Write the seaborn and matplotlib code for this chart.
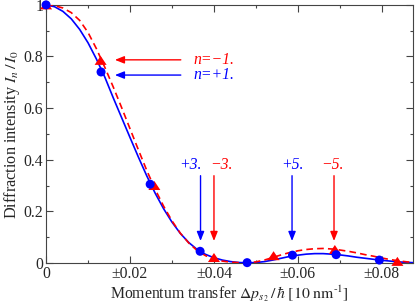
import numpy as np
import pandas as pd
import matplotlib
matplotlib.use("Agg")
import matplotlib.pyplot as plt
from matplotlib.ticker import MultipleLocator, FixedLocator, FixedFormatter
import seaborn as sns

# ---- data ----
blue_curve_x = [0.000, 0.002, 0.004, 0.006, 0.008, 0.010, 0.012, 0.014, 0.016, 0.018,
                0.020, 0.022, 0.024, 0.026, 0.028, 0.030, 0.032, 0.034, 0.036, 0.038,
                0.040, 0.042, 0.044, 0.046, 0.048, 0.050, 0.052, 0.054, 0.056, 0.058,
                0.060, 0.062, 0.064, 0.066, 0.068, 0.070, 0.072, 0.074, 0.076, 0.078,
                0.080, 0.082, 0.084, 0.086, 0.0874]
blue_curve_y = [1.000, 0.993, 0.975, 0.946, 0.905, 0.853, 0.790, 0.720, 0.640, 0.563,
                0.486, 0.410, 0.337, 0.270, 0.210, 0.158, 0.114, 0.079, 0.052, 0.033,
                0.020, 0.011, 0.005, 0.0015, 0.000, 0.0015, 0.005, 0.011, 0.018, 0.025,
                0.030, 0.034, 0.036, 0.036, 0.034, 0.031, 0.027, 0.022, 0.018, 0.014,
                0.010, 0.007, 0.004, 0.002, 0.001]
red_curve_x = [0.000, 0.002, 0.004, 0.006, 0.008, 0.010, 0.012, 0.014, 0.016, 0.018,
               0.020, 0.022, 0.024, 0.026, 0.028, 0.030, 0.032, 0.034, 0.036, 0.038,
               0.040, 0.042, 0.044, 0.046, 0.047, 0.048, 0.050, 0.052, 0.054, 0.056,
               0.058, 0.060, 0.062, 0.064, 0.066, 0.068, 0.070, 0.072, 0.074, 0.076,
               0.078, 0.080, 0.082, 0.084, 0.086, 0.0874]
red_curve_y = [1.000, 0.997, 0.988, 0.970, 0.940, 0.893, 0.830, 0.758, 0.682, 0.602,
               0.520, 0.438, 0.358, 0.285, 0.220, 0.163, 0.115, 0.077, 0.048, 0.028,
               0.015, 0.007, 0.003, 0.001, 0.000, 0.0005, 0.004, 0.011, 0.021, 0.031,
               0.040, 0.047, 0.052, 0.055, 0.056, 0.054, 0.050, 0.045, 0.039, 0.032,
               0.026, 0.019, 0.013, 0.008, 0.004, 0.002]
blue_pts_x = [0.0, 0.0131, 0.0248, 0.0367, 0.0479, 0.0587, 0.0691, 0.0794]
blue_pts_y = [1.0, 0.74, 0.305, 0.045, 0.001, 0.030, 0.032, 0.011]
red_pts_x = [0.0, 0.0130, 0.0258, 0.0400, 0.0542, 0.0688, 0.0837]
red_pts_y = [1.0, 0.785, 0.30, 0.021, 0.028, 0.052, 0.006]

x_ticks = [0.0, 0.02, 0.04, 0.06, 0.08]
x_tick_labels = ["0", "\u00b10.02", "\u00b10.04", "\u00b10.06", "\u00b10.08"]
y_ticks = [0.0, 0.2, 0.4, 0.6, 0.8, 1.0]
y_tick_labels = ["0", "0.2", "0.4", "0.6", "0.8", "1"]

h_labels = ["n=\u22121.", "n=+1."]
h_arrow_y = [0.787, 0.728]
v_labels = ["+3.", "\u22123.", "+5.", "\u22125."]
v_arrow_x = [0.0368, 0.0400, 0.0586, 0.0686]
v_label_x = [0.0343, 0.0419, 0.0586, 0.0683]

BLUE = "#0000ff"
RED = "#ff0000"

sns.set_style("ticks")
plt.rcParams["font.family"] = ["Liberation Serif", "DejaVu Serif"]
plt.rcParams["mathtext.fontset"] = "stix"

fig = plt.figure(figsize=(4.15, 3.05), dpi=100)
ax = fig.add_axes([0.111, 0.138, 0.884, 0.846])

sns.lineplot(x=blue_curve_x, y=blue_curve_y, ax=ax, color=BLUE, lw=1.2,
             sort=False, estimator=None, zorder=3)
sns.lineplot(x=red_curve_x, y=red_curve_y, ax=ax, color=RED, lw=1.2,
             linestyle=(0, (4, 2.5)), sort=False, estimator=None, zorder=3)

tri = [(-1, -0.75), (1, -0.75), (0, 0.75), (-1, -0.75)]
sns.scatterplot(x=red_pts_x, y=red_pts_y, ax=ax, color=RED, marker=tri, s=75,
                edgecolor="none", linewidth=0, clip_on=False, zorder=5)
sns.scatterplot(x=blue_pts_x, y=blue_pts_y, ax=ax, color=BLUE, marker="o", s=42,
                edgecolor="none", linewidth=0, clip_on=False, zorder=6)

ap = dict(arrowstyle="-|>,head_length=0.55,head_width=0.22", lw=1.0,
          shrinkA=0, shrinkB=0, mutation_scale=10)
for lab, yy, col in zip(h_labels, h_arrow_y, [RED, BLUE]):
    ax.annotate("", xy=(0.0164, yy), xytext=(0.0321, yy),
                arrowprops=dict(ap, color=col, fc=col))
    ax.text(0.0350, yy, lab, color=col, fontsize=11.3, fontstyle="italic",
            ha="left", va="center")

for lab, ax_x, lx, col in zip(v_labels, v_arrow_x, v_label_x, [BLUE, RED, BLUE, RED]):
    ax.annotate("", xy=(ax_x, 0.085), xytext=(ax_x, 0.338),
                arrowprops=dict(ap, color=col, fc=col))
    ax.text(lx, 0.378, lab, color=col, fontsize=11.3, fontstyle="italic",
            ha="center", va="center")

ax.set_xlim(0, 0.0874)
ax.set_ylim(0, 1)
ax.xaxis.set_major_locator(FixedLocator(x_ticks))
ax.xaxis.set_major_formatter(FixedFormatter(x_tick_labels))
ax.yaxis.set_major_locator(FixedLocator(y_ticks))
ax.yaxis.set_major_formatter(FixedFormatter(y_tick_labels))
ax.xaxis.set_minor_locator(MultipleLocator(0.01))
ax.yaxis.set_minor_locator(MultipleLocator(0.1))
ax.tick_params(which="both", direction="in", top=True, right=True,
               labelsize=11.3, color="#444444", width=0.8, pad=2)
ax.tick_params(which="major", length=5)
ax.tick_params(which="minor", length=2.5)
for sp in ax.spines.values():
    sp.set_visible(True)
    sp.set_color("#444444")
    sp.set_linewidth(0.8)

ax.set_xlabel(r"Momentum transfer $\Delta p_{s_2}\,/\,\hbar\ [10\ \mathrm{nm}^{\text{-}1}]$",
              fontsize=11.3, labelpad=1)
ax.set_ylabel(r"Diffraction intensity $I_n\,/\,I_0$", fontsize=11.7, labelpad=1)

fig.savefig("out.png", dpi=100)
